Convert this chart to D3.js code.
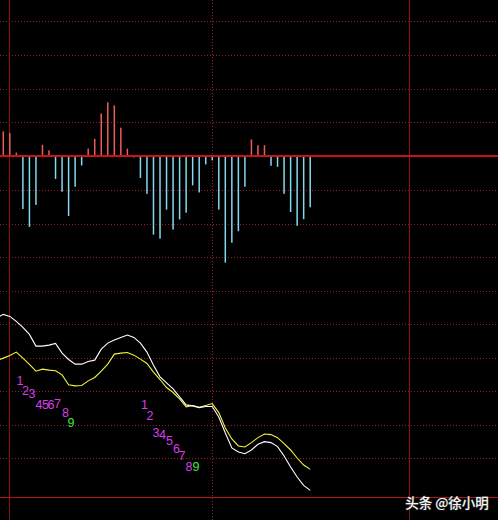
<!DOCTYPE html>
<html>
<head>
<meta charset="utf-8">
<script src="https://cdn.jsdelivr.net/npm/d3@7/dist/d3.min.js"></script>
<style>
  html, body { margin: 0; padding: 0; background: #000; }
  svg { display: block; }
</style>
</head>
<body>
<script>
// ---- data ----
// MACD histogram values (one per period), units = grid steps
const macdHist = [0.73, 0.68, 0.10, -1.57, -2.10, -1.45, 0.33, 0.17, -0.68, -1.06,
  -1.78, -0.91, -0.28, 0.22, 0.51, 1.26, 1.59, 1.50, 0.84, 0.22,
  -0.04, -0.65, -1.12, -2.33, -2.45, -1.59, -2.18, -1.88, -1.68, -0.87,
  -1.08, -0.25, -0.13, -1.59, -3.16, -2.57, -2.23, -0.91, 0.49, 0.32,
  0.32, -0.29, -0.32, -1.12, -1.66, -2.07, -1.87, -1.52];
const periods = macdHist.map((d, i) => i);
// DIF (white) and DEA (yellow); first value is the period before index 0
const difLine = [5.19, 5.30, 5.24, 5.09, 4.91, 4.70, 4.35, 4.35, 4.38, 4.43, 4.14,
  3.95, 3.81, 3.81, 3.89, 3.93, 4.26, 4.44, 4.53, 4.61, 4.68,
  4.61, 4.44, 4.17, 3.78, 3.43, 3.25, 3.07, 2.83, 2.59, 2.56,
  2.51, 2.54, 2.54, 2.23, 1.75, 1.30, 1.18, 1.13, 1.24, 1.41,
  1.49, 1.46, 1.34, 1.06, 0.73, 0.43, 0.18, 0.03];
const deaLine = [3.92, 3.99, 4.07, 4.17, 3.99, 3.80, 3.60, 3.66, 3.63, 3.61, 3.49,
  3.19, 3.16, 3.17, 3.31, 3.41, 3.60, 3.81, 4.11, 4.14, 4.16,
  4.08, 3.96, 3.83, 3.57, 3.35, 3.11, 2.96, 2.77, 2.53, 2.57,
  2.52, 2.57, 2.63, 2.36, 1.90, 1.57, 1.36, 1.33, 1.46, 1.61,
  1.72, 1.70, 1.61, 1.43, 1.24, 1.00, 0.79, 0.66];
const lineStart = -1; // index of the first line value
// annotation digits: text, period index, value on lower scale
const labelText  = ["1","2","3","4","5","6","7","8","9", "1","2","3","4","5","6","7","8","9"];
const labelIdx   = [2.56, 3.40, 4.40, 5.47, 6.46, 7.30, 8.30, 9.53, 10.37,
                    21.62, 22.47, 23.38, 24.37, 25.45, 26.52, 27.36, 28.44, 29.51];
const labelValue = [3.19, 2.89, 2.80, 2.47, 2.47, 2.47, 2.50, 2.23, 1.93,
                    2.47, 2.14, 1.63, 1.57, 1.39, 1.15, 0.94, 0.61, 0.61];
const upperTicks = [-4, -3, -2, -1, 1, 2, 3, 4];
const lowerTicks = [1, 2, 3, 4, 5];
const watermark = "头条 @徐小明";

// ---- layout ----
const W = 498, H = 520;
const svg = d3.select("body").append("svg").attr("width", W).attr("height", H)
  .style("background", "#000");

const x = d3.scaleLinear().domain([0, 47]).range([3.3, 310.2]);
const yU = d3.scaleLinear().domain([-4, 4]).range([291, 21]);
const yL = d3.scaleLinear().domain([1, 6]).range([458, 291]);

const grid = svg.append("g");
const dotted = "#9a2020";
upperTicks.forEach(t => {
  grid.append("line").attr("x1", 0).attr("x2", W)
    .attr("y1", Math.round(yU(t)) + 0.5).attr("y2", Math.round(yU(t)) + 0.5)
    .attr("stroke", dotted).attr("stroke-dasharray", "1,2");
});
lowerTicks.forEach(t => {
  grid.append("line").attr("x1", 0).attr("x2", W)
    .attr("y1", Math.round(yL(t)) + 0.5).attr("y2", Math.round(yL(t)) + 0.5)
    .attr("stroke", dotted).attr("stroke-dasharray", "1,2");
});
grid.append("line").attr("x1", 9.5).attr("x2", 9.5).attr("y1", 0).attr("y2", H)
  .attr("stroke", "#920f0f");
grid.append("line").attr("x1", 409.5).attr("x2", 409.5).attr("y1", 0).attr("y2", H)
  .attr("stroke", "#920f0f");
grid.append("line").attr("x1", 212.5).attr("x2", 212.5).attr("y1", 0).attr("y2", H)
  .attr("stroke", dotted).attr("stroke-dasharray", "1,2");
grid.append("line").attr("x1", 0).attr("x2", W).attr("y1", 497.5).attr("y2", 497.5)
  .attr("stroke", "#b81212");

// histogram bars
svg.append("g").selectAll("rect").data(macdHist).join("rect")
  .attr("x", (d, i) => x(periods[i]) - 0.75)
  .attr("width", 1.5)
  .attr("y", d => d >= 0 ? yU(d) : yU(0))
  .attr("height", d => Math.abs(yU(d) - yU(0)))
  .attr("fill", d => d >= 0 ? "#ee5a5a" : "#84d8ee");

// zero line
svg.append("line").attr("x1", 0).attr("x2", W).attr("y1", yU(0)).attr("y2", yU(0))
  .attr("stroke", "#cc1212").attr("stroke-width", 2);

// lines
const clip = svg.append("clipPath").attr("id", "c");
clip.append("rect").attr("x", 0).attr("y", 0).attr("width", W).attr("height", H);
const line = d3.line().x((d, i) => x(i + lineStart)).y(d => yL(d));
svg.append("path").attr("d", line(deaLine)).attr("clip-path", "url(#c)")
  .attr("fill", "none").attr("stroke", "#f4f43c").attr("stroke-width", 1.1);
svg.append("path").attr("d", line(difLine)).attr("clip-path", "url(#c)")
  .attr("fill", "none").attr("stroke", "#ffffff").attr("stroke-width", 1.1);

// annotation digits
svg.append("g").selectAll("text").data(labelText).join("text")
  .attr("x", (d, i) => x(labelIdx[i]))
  .attr("y", (d, i) => yL(labelValue[i]))
  .attr("text-anchor", "middle")
  .attr("font-family", "'Liberation Sans', Arial, sans-serif")
  .attr("font-size", 12.5)
  .attr("fill", (d, i) => d === "9" ? "#3ee83e" : "#d83ce8")
  .text(d => d);

// watermark
svg.append("text").attr("x", 447).attr("y", 508)
  .attr("text-anchor", "middle")
  .attr("font-family", "'Noto Sans CJK SC', sans-serif")
  .attr("font-size", 13.5)
  .attr("font-weight", 500)
  .attr("fill", "#f4f4f4")
  .style("paint-order", "stroke")
  .attr("stroke", "#333").attr("stroke-width", 1)
  .text(watermark);
</script>
</body>
</html>
